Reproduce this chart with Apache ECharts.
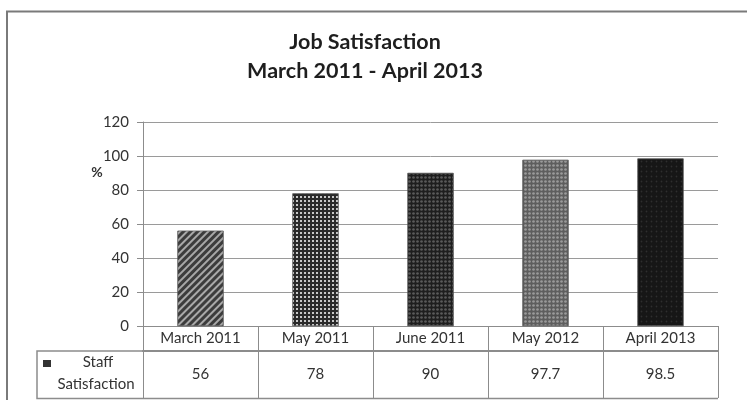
<!DOCTYPE html>
<html>
<head>
<meta charset="utf-8">
<script src="https://cdn.jsdelivr.net/npm/echarts@6/dist/echarts.min.js"></script>
<style>
html,body{margin:0;padding:0;background:#fff;}
#chart{width:747px;height:400px;}
</style>
</head>
<body>
<div id="chart"></div>
<script>
var categories = ['March 2011', 'May 2011', 'June 2011', 'May 2012', 'April 2013'];
var values = [56, 78, 90, 97.7, 98.5];
var valueLabels = ['56', '78', '90', '97.7', '98.5'];
var yTicks = [0, 20, 40, 60, 80, 100, 120];
var seriesName = 'Staff Satisfaction';

var FONT = 'Lato, "Open Sans", sans-serif';
var styles = [
  { color: '#3c3c3c', decal: { symbol: 'rect', dashArrayX: [1, 0], dashArrayY: [2, 3], rotation: -Math.PI / 4, color: '#a8a8a8' } },
  { color: '#2a2a2a', decal: { symbol: 'rect', symbolSize: 1, dashArrayX: [2, 2], dashArrayY: [2, 2], color: '#c8c8c8' } },
  { color: '#1e1e1e', decal: { symbol: 'circle', symbolSize: 0.9, dashArrayX: [3, 1], dashArrayY: [3, 1], color: '#5a5a5a' } },
  { color: '#5e5e5e', decal: { symbol: 'circle', symbolSize: 0.9, dashArrayX: [3, 1], dashArrayY: [3, 1], color: '#9a9a9a' } },
  { color: '#161616', decal: { symbol: 'circle', symbolSize: 0.6, dashArrayX: [3, 2], dashArrayY: [3, 2], color: '#2e2e2e' } }
];

var chart = echarts.init(document.getElementById('chart'), null, { renderer: 'canvas' });
var option = {
  animation: false,
  backgroundColor: '#fff',
  textStyle: { fontFamily: FONT },
  title: {
    text: 'Job Satisfaction\nMarch 2011 - April 2013',
    left: 360,
    textAlign: 'center',
    top: 23,
    textStyle: { fontFamily: FONT, fontSize: 21.5, fontWeight: 'bold', lineHeight: 29, color: '#1e1e1e' }
  },
  grid: { left: 143, right: 29, top: 122, bottom: 74, containLabel: false },
  xAxis: [
    {
      type: 'category',
      data: categories,
      position: 'bottom',
      axisLine: { show: true, lineStyle: { color: '#8c8c8c', width: 1 } },
      axisTick: { show: true, length: 72, interval: 0, lineStyle: { color: '#8c8c8c' } },
      axisLabel: { margin: 5, fontSize: 15, color: '#333', fontFamily: FONT }
    },
    {
      type: 'category',
      data: categories,
      position: 'bottom',
      offset: 25,
      axisLine: { show: true, lineStyle: { color: '#8c8c8c', width: 2 } },
      axisTick: { show: false },
      axisLabel: {
        margin: 16, fontSize: 15, color: '#333', fontFamily: FONT,
        formatter: function (v, i) { return valueLabels[i]; }
      }
    }
  ],
  yAxis: {
    type: 'value',
    min: yTicks[0],
    max: yTicks[yTicks.length - 1],
    interval: 20,
    axisLine: { show: true, lineStyle: { color: '#8c8c8c' } },
    axisTick: { show: true, length: 6, lineStyle: { color: '#8c8c8c' } },
    axisLabel: { margin: 14, fontSize: 15, color: '#333', fontFamily: FONT },
    splitLine: { show: true, lineStyle: { color: '#9a9a9a', width: 1 } }
  },
  series: [{
    name: seriesName,
    type: 'bar',
    barWidth: '40%',
    data: values.map(function (v, i) {
      return { value: v, itemStyle: { color: styles[i].color, decal: styles[i].decal, borderColor: '#555', borderWidth: 0.5 } };
    })
  }],
  graphic: [
    { type: 'polyline', shape: { points: [[7, 400], [7, 11.5], [747, 11.5]] }, style: { stroke: '#7a7a7a', lineWidth: 2, fill: null } },
    { type: 'polyline', shape: { points: [[143, 351], [37, 351], [37, 398.5], [718, 398.5]] }, style: { stroke: '#8c8c8c', lineWidth: 1.5, fill: null } },
    { type: 'text', x: 97, y: 172, style: { text: '%', fontFamily: FONT, fontSize: 14, fontWeight: 'bold', fill: '#333', textAlign: 'center', textVerticalAlign: 'middle' } },
    { type: 'rect', shape: { x: 43, y: 360, width: 8, height: 7 }, style: { fill: '#333' } },
    { type: 'text', x: 98, y: 362, style: { text: 'Staff', fontFamily: FONT, fontSize: 15, fill: '#333', textAlign: 'center', textVerticalAlign: 'middle' } },
    { type: 'text', x: 96, y: 384, style: { text: 'Satisfaction', fontFamily: FONT, fontSize: 15, fill: '#333', textAlign: 'center', textVerticalAlign: 'middle' } }
  ]
};
chart.setOption(option);
</script>
</body>
</html>
